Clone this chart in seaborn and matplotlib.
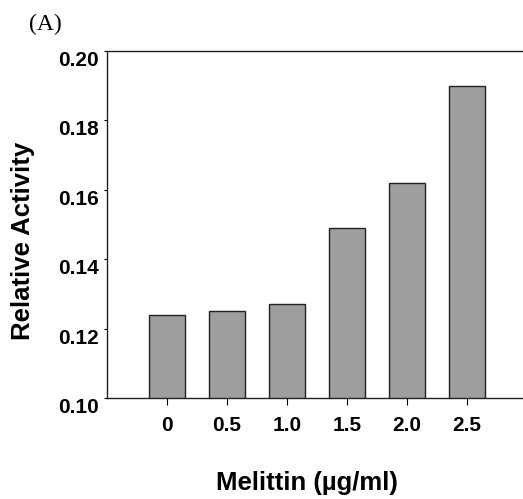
import matplotlib
matplotlib.use('Agg')
import matplotlib.pyplot as plt
import seaborn as sns
import pandas as pd

# melittin dose (ug/ml) and relative activity
doses = ['0', '0.5', '1.0', '1.5', '2.0', '2.5']
activity = [0.124, 0.1252, 0.1272, 0.149, 0.162, 0.190]
yticks = [0.10, 0.12, 0.14, 0.16, 0.18, 0.20]
ytick_labels = ['0.10', '0.12', '0.14', '0.16', '0.18', '0.20']

sns.set_style('white')
plt.rcParams['font.family'] = ['Liberation Sans', 'DejaVu Sans']
plt.rcParams['text.color'] = 'black'
plt.rcParams['axes.labelcolor'] = 'black'

df = pd.DataFrame({'dose': doses, 'activity': activity})

fig = plt.figure(figsize=(5.23, 4.99), dpi=100)
ax = fig.add_axes([0.2046, 0.2024, 0.803, 0.6954])

sns.barplot(data=df, x='dose', y='activity', order=doses, width=0.6,
            color='#9e9e9e', saturation=1, edgecolor='#222222',
            linewidth=1.0, ax=ax)

ax.set_xlim(-1, 6)
ax.set_ylim(0.10, 0.20)
ax.set_yticks(yticks, ytick_labels)
for t in ax.yaxis.get_major_ticks():
    t.label1.set_va('top')

for lbl in ax.get_xticklabels() + ax.get_yticklabels():
    lbl.set_fontweight('bold')
ax.tick_params(axis='y', which='major', direction='out', length=2,
               width=0.8, pad=4, labelsize=15, left=True, colors='black')
ax.tick_params(axis='x', which='major', direction='out', length=5,
               width=0.8, pad=8, labelsize=15, bottom=True, colors='black')

for side in ['top', 'left', 'bottom']:
    ax.spines[side].set_visible(True)
    ax.spines[side].set_color('#222222')
    ax.spines[side].set_linewidth(1.0)
ax.spines['right'].set_visible(False)

ax.set_xlabel('Melittin (\u00b5g/ml)', fontsize=18.5, fontweight='bold',
              va='center', ha='center')
ax.xaxis.set_label_coords(0.476, -0.245)
ax.set_ylabel('Relative Activity', fontsize=18.5, fontweight='bold',
              va='center', ha='center')
ax.yaxis.set_label_coords(-0.2, 0.452)

fig.text(45 / 523, 1 - 24 / 499, '(A)', family='Liberation Serif',
         fontsize=17, ha='center', va='center')

fig.savefig('out.png', dpi=100)
plt.close(fig)
